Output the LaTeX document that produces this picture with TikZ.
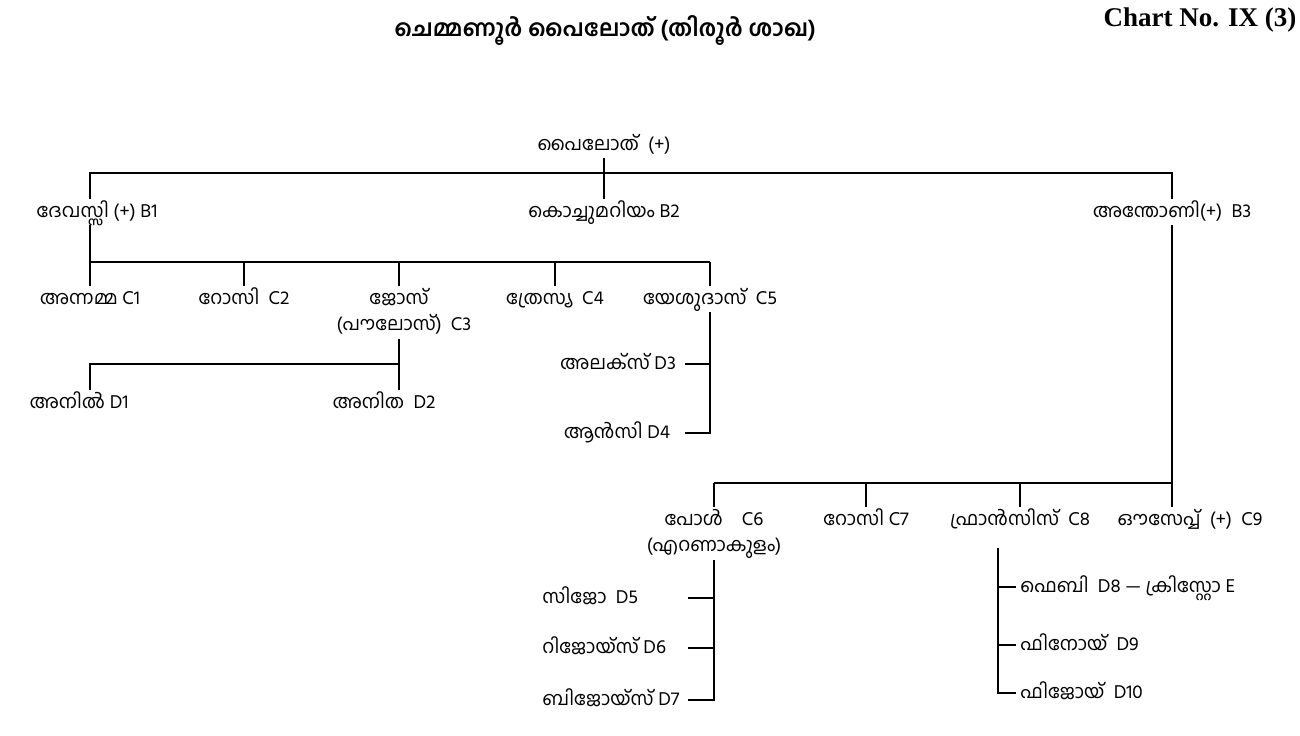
\documentclass[tikz,border=0pt]{standalone}
\usepackage{fontspec}
\usepackage{tikz}
\usetikzlibrary{positioning}
\newfontfamily\malfont[Script=Malayalam]{Hind Kochi}
\newfontfamily\chartfont{Liberation Serif}
\tikzstyle{person} = [inner sep=2pt,text height=7pt,text depth=2pt,font=\malfont\fontsize{9.5}{12}\selectfont]
\tikzstyle{heading} = [inner sep=0pt,font=\malfont\bfseries\fontsize{11.5}{14}\selectfont]
\tikzstyle{link} = [-,line width=1pt]
\begin{document}
\begin{tikzpicture}[x=0.5pt,y=-0.5pt]
      \useasboundingbox (0,0) rectangle (1300,735);
      \node[heading] (title) at (605,31) {ചെമ്മണൂർ പൈലോത് (തിരൂർ ശാഖ)};
      \node[inner sep=0pt,font=\chartfont\bfseries\fontsize{13.5}{16}\selectfont] (chart) at (1200,20) {Chart No. IX (3)};
      % generation A and B
      \node[person] (pailoth) at (604,145) {പൈലോത്\ \ (+)};
      \node[person] (devassi) at (97,212) {ദേവസ്സി (+) B1};
      \node[person] (kochu) at (604,212) {കൊച്ചുമറിയം B2};
      \node[person] (anthoni) at (1172,212) {അന്തോണി(+)\ \ B3};
      \coordinate (barB) at (0,173);
      \draw[link] (pailoth.south) -- (kochu.north);
      \draw[link] (devassi.north -| 90,0) -- (90,173) -- (anthoni.north |- barB) -- (anthoni.north);
      % children of B1
      \node[person] (annamma) at (90,299) {അന്നമ്മ C1};
      \node[person] (rosi) at (244,299) {റോസി\ \ C2};
      \node[person] (jose) at (399,299) {ജോസ്};
      \node[person,below=0pt of jose,xshift=2.5pt] (paulose) {(പൗലോസ്)\ \ C3};
      \node[person] (thresia) at (555,299) {ത്രേസ്യ\ \ C4};
      \node[person] (yesudas) at (710,299) {യേശുദാസ്\ \ C5};
      \coordinate (barC) at (0,262);
      \draw[link] (annamma |- devassi.south) -- (annamma.north);
      \draw[link] (annamma |- barC) -- (yesudas |- barC);
      \foreach \n in {rosi,jose,thresia,yesudas}
        \draw[link] (\n |- barC) -- (\n.north);
      % children of C3
      \node[person] (anil) at (79,403) {അനിൽ D1};
      \node[person] (anitha) at (384,403) {അനിത\ \ D2};
      \coordinate (barD) at (0,364);
      \draw[link] (jose |- paulose.south) -- (jose |- anitha.north);
      \draw[link] (jose |- barD) -| (annamma |- anil.north);
      % children of C5
      \node[person] (alex) at (618,364) {അലക്സ് D3};
      \node[person] (ansi) at (617,433) {ആൻസി D4};
      \coordinate (stubY) at (685,0);
      \draw[link] (yesudas.south) -- (yesudas |- ansi) -- (stubY |- ansi);
      \draw[link] (stubY |- alex) -- (yesudas |- alex);
      % children of B3
      \node[person] (paul) at (714,520) {പോൾ\quad C6};
      \node[person,below=0pt of paul] (ernakulam) {(എറണാകുളം)};
      \node[person] (rosi2) at (866,520) {റോസി C7};
      \node[person] (francis) at (1020,520) {ഫ്രാൻസിസ്\ \ C8};
      \node[person] (ouseph) at (1190,520) {ഔസേപ്പ്\ \ (+)\ \ C9};
      \coordinate (barE) at (0,483);
      \draw[link] (anthoni.south) -- (anthoni |- ouseph.north);
      \draw[link] (paul |- barE) -- (anthoni |- barE);
      \foreach \n in {paul,rosi2,francis}
        \draw[link] (\n |- barE) -- (\n.north);
      % children of C6
      \node[person,anchor=west] (sijo) at (538,598) {സിജോ\ \ D5};
      \node[person,anchor=west] (rijoice) at (538,648) {റിജോയ്സ് D6};
      \node[person,anchor=west] (bijoice) at (538,700) {ബിജോയ്സ് D7};
      \coordinate (stubP) at (688,0);
      \draw[link] (ernakulam.south) -- (ernakulam |- bijoice) -- (stubP |- bijoice);
      \foreach \n in {sijo,rijoice}
        \draw[link] (stubP |- \n) -- (ernakulam |- \n);
      % children of C8
      \node[person,anchor=west] (febi) at (1016,587) {ഫെബി\ \ D8 — ക്രിസ്റ്റോ E};
      \node[person,anchor=west] (finoy) at (1016,645) {ഫിനോയ്\ \ D9};
      \node[person,anchor=west] (fijoy) at (1016,693) {ഫിജോയ്\ \ D10};
      \coordinate (stemF) at (998,548);
      \draw[link] (stemF) |- (fijoy.west);
      \foreach \n in {febi,finoy}
        \draw[link] (stemF |- \n) -- (\n.west);
    \end{tikzpicture}
\end{document}
